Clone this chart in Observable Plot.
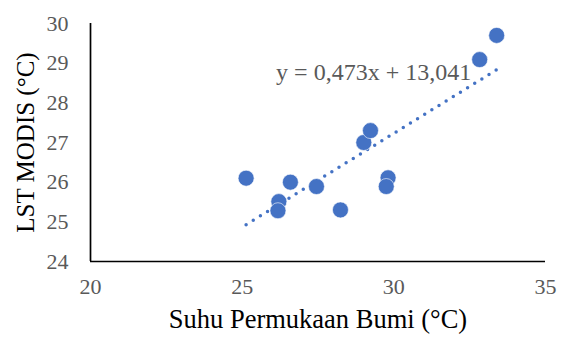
<!DOCTYPE html>
<html>
<head>
<meta charset="utf-8">
<script src="https://cdn.jsdelivr.net/npm/d3@7"></script>
<script src="https://cdn.jsdelivr.net/npm/@observablehq/plot@0.6"></script>
<style>
  html, body { margin: 0; padding: 0; background: #fff; }
</style>
</head>
<body>
<div id="chart"></div>
<script>
const suhuBumi = [25.13, 26.59, 26.21, 26.18, 27.45, 28.24, 29.01, 29.23, 29.81, 29.75, 32.83, 33.39];
const lstModis = [26.10, 26.00, 25.51, 25.28, 25.89, 25.30, 27.00, 27.30, 26.11, 25.89, 29.09, 29.70];
const xTicks = [20, 25, 30, 35];
const yTicks = [24, 25, 26, 27, 28, 29, 30];
const slope = 0.473;
const intercept = 13.041;
const equationText = "y = 0,473x + 13,041";
const equationPos = [{x: 32.55, y: 28.58}];
const xTitle = "Suhu Permukaan Bumi (°C)";
const yTitle = "LST MODIS (°C)";

const points = suhuBumi.map((x, i) => ({x, y: lstModis[i]}));
const xMin = d3.min(suhuBumi), xMax = d3.max(suhuBumi);
const trend = [xMin, xMax].map(x => ({x, y: slope * x + intercept}));
const fmt = d => String(d).replace(".", ",");

const chart = Plot.plot({
  width: 563,
  height: 338,
  marginLeft: 90,
  marginRight: 18,
  marginTop: 23,
  marginBottom: 77,
  style: {fontFamily: "'Liberation Serif', 'Times New Roman', serif", background: "#fff"},
  x: {domain: [20, 35]},
  y: {domain: [24, 30]},
  marks: [
    Plot.axisX({ticks: xTicks, tickSize: 0, tickPadding: 17, fontSize: 22, fill: "#595959", label: null, tickFormat: fmt}),
    Plot.axisY({ticks: yTicks, tickSize: 0, tickPadding: 22, fontSize: 22, fill: "#595959", label: null, tickFormat: fmt}),
    Plot.ruleY([24], {stroke: "#000", strokeWidth: 1.7}),
    Plot.ruleX([20], {stroke: "#000", strokeWidth: 1.7}),
    Plot.line(trend, {x: "x", y: "y", stroke: "#4472C4", strokeWidth: 3.5, strokeDasharray: "0 8.4", strokeLinecap: "round"}),
    Plot.dot(points, {x: "x", y: "y", r: 8, fill: "#4472C4", stroke: "#fff", strokeWidth: 0.6}),
    Plot.text(equationPos, {x: "x", y: "y", text: () => equationText, textAnchor: "end", lineAnchor: "bottom", fontSize: 24, fill: "#595959"}),
    Plot.text([xTitle], {frameAnchor: "bottom", dy: 66, fontSize: 26.5, fill: "#000"}),
    Plot.text([yTitle], {frameAnchor: "left", textAnchor: "middle", dx: -65, rotate: -90, fontSize: 25, fill: "#000"})
  ]
});
document.getElementById("chart").appendChild(chart);
</script>
</body>
</html>
